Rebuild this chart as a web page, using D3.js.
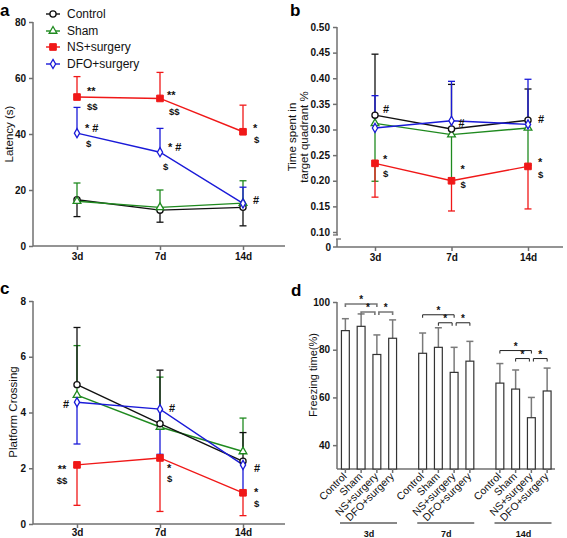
<!DOCTYPE html>
<html><head><meta charset="utf-8">
<script src="https://cdn.jsdelivr.net/npm/d3@7"></script>
<style>
body{margin:0;background:#fff;}
svg{font-family:"Liberation Sans",Arial,sans-serif;}
</style></head>
<body><svg id="c" width="567" height="538"></svg>
<script>
const days = ["3d","7d","14d"];
const groups = ["Control","Sham","NS+surgery","DFO+surgery"];
const colors = ["#111111","#1f8a1f","#f01818","#1a1ad8"];

// Panel a: Latency (s)
const latMean = [[16.5,12.8,13.8],[16.0,13.8,15.3],[53.2,52.7,40.8],[40.3,33.5,15.2]];
const latErr  = [[10.5,8.5,7.2],[22.5,20.0,23.3],[60.5,62.0,50.3],[49.5,42.0,21.0]];
const latTicks = [0,20,40,60,80];

// Panel b: Time spent in target quadrant %
const tqMean = [[0.328,0.301,0.318],[0.312,0.290,0.303],[0.234,0.200,0.228],[0.303,0.317,0.310]];
const tqErr  = [[0.447,0.388,0.379],[0.199,0.205,0.230],[0.168,0.141,0.145],[0.366,0.394,0.398]];
const tqTicks = [0.10,0.15,0.20,0.25,0.30,0.35,0.40,0.45,0.50];

// Panel c: Platform Crossing
const pcMean = [[5.0,3.6,2.25],[4.62,3.48,2.6],[2.12,2.37,1.12],[4.37,4.12,2.12]];
const pcErr  = [[7.05,5.52,3.28],[6.4,5.27,3.8],[0.67,0.45,0.3],[2.87,2.5,1.1]];
const pcTicks = [0,2,4,6,8];

// Panel d: Freezing time(%)
const frMean = [[88.0,89.8,78.0,84.8],[78.5,81.0,70.5,75.2],[66.0,63.5,51.5,62.7]];
const frErr  = [[93.0,95.0,86.2,92.5],[87.0,89.2,81.0,83.5],[74.2,71.5,60.0,72.3]];
const frTicks = [40,60,80,100];
const frPairs = [[0,2],[1,2],[2,3]];

// annotations: [series, dayIndex, text, dx, dy]
const latNotes = [[2,0,"**",10,-6],[2,0,"$$",10,9],[2,1,"**",7,-3],[2,1,"$$",9,13],[2,2,"*",10,-4],[2,2,"$",11,7],
  [3,0,"* #",8,-5],[3,0,"$",9,10],[3,1,"* #",8,-5],[3,1,"$",3,14],[3,2,"#",10,-3]];
const tqNotes = [[0,0,"#",8,-6],[0,1,"#",7,-6],[0,2,"#",10,-1],[2,0,"*",8,-4],[2,0,"$",8,10],
  [2,1,"*",9,-12],[2,1,"$",9,3],[2,2,"*",10,-4],[2,2,"$",10,8]];
const pcNotes = [[3,0,"#",-11,2],[3,1,"#",9,-1],[3,2,"#",11,3],[2,0,"**",-15,4],[2,0,"$$",-15,15],
  [2,1,"*",7,10],[2,1,"$",7,20],[2,2,"*",11,-1],[2,2,"$",11,10]];

const svg = d3.select("#c");
const axisCol = "#707070";

function sym(g,i,x,y){
  const c = colors[i];
  if(i===2){
    g.append("path").attr("d",d3.symbol(d3.symbolSquare,44)()).attr("transform",`translate(${x},${y})`)
     .attr("fill",c).attr("stroke",c);
  } else {
    const t = i===0?d3.symbolCircle:(i===1?d3.symbolTriangle:d3.symbolDiamond);
    const s = i===0?30:(i===1?26:24);
    g.append("path").attr("d",d3.symbol(t,s)()).attr("transform",`translate(${x},${y})`)
     .attr("fill","#fff").attr("stroke",c).attr("stroke-width",1.3);
  }
}

function linePanel(opt){
  const g = svg.append("g");
  const x = d3.scalePoint().domain(days).range(opt.xr);
  const y = d3.scaleLinear().domain(opt.yd).range(opt.yr);
  const ya = g.append("g").attr("transform",`translate(${opt.ax},0)`)
    .call(d3.axisLeft(y).tickValues(opt.ticks).tickSize(4).tickFormat(opt.fmt));
  const xa = g.append("g").attr("transform",`translate(0,${opt.ay})`)
    .call(d3.axisBottom(x).tickSize(4).tickPadding(opt.xpad).tickSizeOuter(0));
  [ya,xa].forEach(a=>{
    a.selectAll("path,line").attr("stroke",axisCol).attr("stroke-width",1.5);
    a.selectAll("text").attr("font-size",10).attr("font-weight","bold").attr("fill","#111");
  });
  ya.select("path").remove();
  xa.select("path").remove();
  g.append("line").attr("x1",opt.ax).attr("x2",opt.xEnd).attr("y1",opt.ay).attr("y2",opt.ay)
    .attr("stroke",axisCol).attr("stroke-width",1.5);
  g.append("line").attr("x1",opt.ax).attr("x2",opt.ax).attr("y1",y(opt.yd[1])).attr("y2",opt.yBreak?opt.yBreak[0]:opt.ay)
    .attr("stroke",axisCol).attr("stroke-width",1.5);
  if(opt.yBreak){
    g.append("line").attr("x1",opt.ax).attr("x2",opt.ax).attr("y1",opt.yBreak[1]).attr("y2",opt.ay)
      .attr("stroke",axisCol).attr("stroke-width",1.5);
    g.append("line").attr("x1",opt.ax-4).attr("x2",opt.ax+1).attr("y1",opt.yBreak[0]).attr("y2",opt.yBreak[0]).attr("stroke",axisCol).attr("stroke-width",1.3);
    g.append("line").attr("x1",opt.ax-1).attr("x2",opt.ax+4).attr("y1",opt.yBreak[1]).attr("y2",opt.yBreak[1]).attr("stroke",axisCol).attr("stroke-width",1.3);
    g.append("line").attr("x1",opt.ax).attr("x2",opt.ax-4).attr("y1",opt.ay).attr("y2",opt.ay).attr("stroke",axisCol).attr("stroke-width",1.5);
    g.append("text").attr("x",opt.ax-6).attr("y",opt.ay+3.5).attr("text-anchor","end")
      .attr("font-size",10).attr("font-weight","bold").attr("fill","#111").text("0");
  }
  const lab = g.append("text").attr("transform",`translate(${opt.lx},${opt.ly}) rotate(-90)`)
    .attr("text-anchor","middle").attr("font-size",11.5).attr("fill","#111");
  opt.label.forEach((t,i)=>lab.append("tspan").attr("x",0).attr("dy",i===0?0:12).text(t));
  opt.order.forEach(i=>{
    days.forEach((d,j)=>{
      const cx = x(d), m = y(opt.mean[i][j]), e = y(opt.err[i][j]);
      g.append("line").attr("x1",cx).attr("x2",cx).attr("y1",m).attr("y2",e).attr("stroke",colors[i]).attr("stroke-width",1.3);
      g.append("line").attr("x1",cx-3.5).attr("x2",cx+3.5).attr("y1",e).attr("y2",e).attr("stroke",colors[i]).attr("stroke-width",1.3);
    });
  });
  const ln = d3.line().x((v,j)=>x(days[j])).y(v=>y(v));
  opt.order.forEach(i=>{
    g.append("path").attr("d",ln(opt.mean[i])).attr("fill","none").attr("stroke",colors[i]).attr("stroke-width",1.4);
  });
  opt.order.forEach(i=>{
    opt.mean[i].forEach((v,j)=>sym(g,i,x(days[j]),y(v)));
  });
  opt.notes.forEach(([s,j,t,dx,dy])=>{
    g.append("text").attr("x",x(days[j])+dx).attr("y",y(opt.mean[s][j])+dy+4)
      .attr("font-size",t.includes("$")?9.5:11).attr("font-weight","bold").attr("fill","#111")
      .attr("text-anchor",dx<0?"middle":"start").text(t);
  });
  g.append("text").attr("x",opt.px).attr("y",opt.py).attr("font-size",17).attr("font-weight","bold").text(opt.letter);
  return g;
}

linePanel({letter:"a",px:0,py:16,xr:[77,243],yd:[0,80],yr:[246,22],ticks:latTicks,fmt:d3.format("d"),xpad:3,
  ax:33,ay:246,xEnd:285,label:["Latency (s)"],lx:13,ly:134,mean:latMean,err:latErr,order:[0,1,3,2],notes:latNotes});
linePanel({letter:"b",px:290,py:16,xr:[375,528],yd:[0.10,0.50],yr:[232,27],ticks:tqTicks,fmt:d3.format(".2f"),xpad:3,
  ax:337,ay:247,xEnd:563,yBreak:[235,239],label:["Time spent in","target quadrant %"],lx:296,ly:137,mean:tqMean,err:tqErr,order:[1,0,3,2],notes:tqNotes});
linePanel({letter:"c",px:0,py:294,xr:[77,243],yd:[0,8],yr:[524,301],ticks:pcTicks,fmt:d3.format("d"),xpad:1,
  ax:33,ay:524,xEnd:285,label:["Platform Crossing"],lx:17,ly:412,mean:pcMean,err:pcErr,order:[1,0,3,2],notes:pcNotes});

const lg = svg.append("g");
groups.forEach((nm,i)=>{
  const yy = [14,31,47,64][i];
  lg.append("line").attr("x1",46).attr("x2",60).attr("y1",yy).attr("y2",yy).attr("stroke",colors[i]).attr("stroke-width",1.4);
  sym(lg,i,53,yy);
  lg.append("text").attr("x",67).attr("y",yy+4).attr("font-size",12).attr("fill","#111").text(nm);
});

(function(){
  const g = svg.append("g");
  const gx = d3.scalePoint().domain(days).range([369,523.5]);
  const bx = d3.scaleBand().domain(groups).range([-31.5,31.5]).paddingInner(0.5).paddingOuter(0.25);
  const y = d3.scaleLinear().domain([30,100]).range([469,302]);
  const ax = 337, ay = 469;
  const ya = g.append("g").attr("transform",`translate(${ax},0)`).call(d3.axisLeft(y).tickValues(frTicks).tickSize(4));
  ya.select("path").remove();
  ya.selectAll("line").attr("stroke",axisCol).attr("stroke-width",1.5);
  ya.selectAll("text").attr("font-size",10).attr("font-weight","bold").attr("fill","#111");
  g.append("line").attr("x1",ax).attr("x2",ax).attr("y1",302).attr("y2",ay).attr("stroke",axisCol).attr("stroke-width",1.5);
  g.append("line").attr("x1",ax).attr("x2",555).attr("y1",ay).attr("y2",ay).attr("stroke",axisCol).attr("stroke-width",1.5);
  g.append("text").attr("transform","translate(317,375) rotate(-90)").attr("text-anchor","middle")
    .attr("font-size",11).attr("fill","#111").text("Freezing time(%)");
  days.forEach((d,k)=>{
    groups.forEach((c,i)=>{
      const cx = gx(d)+bx(c)+bx.bandwidth()/2;
      const top = y(frMean[k][i]), e = y(frErr[k][i]);
      g.append("line").attr("x1",cx).attr("x2",cx).attr("y1",top).attr("y2",e).attr("stroke","#7a7a7a").attr("stroke-width",1.5);
      g.append("line").attr("x1",cx-3.5).attr("x2",cx+3.5).attr("y1",e).attr("y2",e).attr("stroke","#7a7a7a").attr("stroke-width",1.5);
      g.append("rect").attr("x",cx-bx.bandwidth()/2).attr("y",top).attr("width",bx.bandwidth()).attr("height",ay-top)
        .attr("fill","#fff").attr("stroke","#333").attr("stroke-width",1.2);
      g.append("line").attr("x1",cx).attr("x2",cx).attr("y1",ay).attr("y2",ay+4).attr("stroke",axisCol).attr("stroke-width",1.5);
      g.append("text").attr("transform",`translate(${cx+2},${ay+8}) rotate(-45)`).attr("text-anchor","end")
        .attr("font-size",10.5).attr("fill","#111").text(c);
    });
    frPairs.forEach(([a,b],p)=>{
      const x1 = gx(d)+bx(groups[a])+bx.bandwidth()/2, x2 = gx(d)+bx(groups[b])+bx.bandwidth()/2;
      const hi = d3.max(frErr[k]);
      const by = y(hi) - (p===0?13:5) + (k===0?3:0);
      const xa1 = p===2?x1+2:x1, xb2 = (p===1)?x2-2:x2;
      g.append("path").attr("d",`M${xa1},${by+3}V${by}H${xb2}V${by+3}`).attr("fill","none")
        .attr("stroke",k===0?"#777":"#222").attr("stroke-width",k===0?1.6:1);
      g.append("text").attr("x",(xa1+xb2)/2).attr("y",by-1).attr("text-anchor","middle")
        .attr("font-size",10).attr("font-weight","bold").attr("fill","#111").text("*");
    });
    g.append("line").attr("x1",gx(d)-29).attr("x2",gx(d)+28).attr("y1",523).attr("y2",523).attr("stroke","#111").attr("stroke-width",1);
    g.append("text").attr("x",gx(d)).attr("y",537).attr("text-anchor","middle").attr("font-size",9)
      .attr("font-weight","bold").attr("fill","#111").text(d);
  });
  g.append("text").attr("x",291).attr("y",296).attr("font-size",17).attr("font-weight","bold").text("d");
})();
</script></body></html>
